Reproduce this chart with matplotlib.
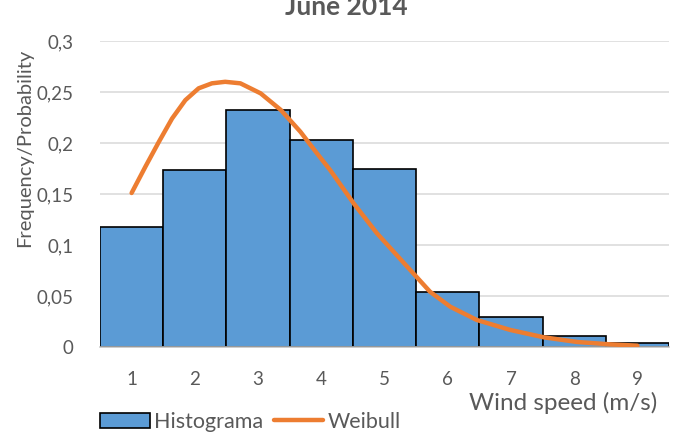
# histogram of wind speed for June 2014 with the fitted Weibull curve on top

import numpy as np
import matplotlib.pyplot as plt

plt.rcParams['font.family'] = ['Lato', 'DejaVu Sans']

# histogram (frequency of each 1 m/s bin)
speed = [1, 2, 3, 4, 5, 6, 7, 8, 9]
freq = [0.118, 0.1735, 0.2325, 0.203, 0.175, 0.054, 0.0295, 0.0112, 0.0042]

# weibull probability
wb_x = [1.0, 1.22, 1.43, 1.64, 1.85, 2.06, 2.27, 2.48, 2.72, 3.04, 3.36,
        3.67, 3.93, 4.14, 4.51, 4.88, 5.36, 5.72, 6.04, 6.46, 6.99, 7.52,
        8.05, 8.57, 9.0]
wb_y = [0.151, 0.177, 0.201, 0.224, 0.242, 0.2536, 0.2585, 0.260, 0.2585,
        0.2487, 0.2324, 0.211, 0.190, 0.1735, 0.141, 0.1115, 0.0787, 0.0542,
        0.0395, 0.0265, 0.0167, 0.0095, 0.0049, 0.0026, 0.0013]

y_ticks = [0, 0.05, 0.1, 0.15, 0.2, 0.25, 0.3]
y_labels = ['0', '0,05', '0,1', '0,15', '0,2', '0,25', '0,3']

grey = '#595959'

fig = plt.figure(figsize=(6.86, 4.37), dpi=100)
ax = fig.add_axes([100/686, 1 - 347/437, 569/686, 306/437])

bars = ax.bar(speed, freq, width=1.0, color='#5B9BD5', edgecolor='black',
              linewidth=1.2, zorder=2, label='Histograma')
line, = ax.plot(wb_x, wb_y, color='#ED7D31', linewidth=3.2,
                solid_capstyle='round', solid_joinstyle='round', zorder=3,
                label='Weibull')

ax.set_xlim(0.5, 9.5)
ax.set_ylim(0, 0.3)
ax.set_xticks(speed)
ax.set_yticks(y_ticks)
ax.set_yticklabels(y_labels)
ax.tick_params(length=0, labelsize=13.5, labelcolor=grey)
ax.tick_params(axis='y', pad=19)
ax.tick_params(axis='x', pad=17)
ax.grid(axis='y', color='#D9D9D9', linewidth=1.1, zorder=0)
ax.set_axisbelow(True)
for s in ['top', 'right', 'left']:
    ax.spines[s].set_visible(False)
ax.spines['bottom'].set_color('#BFBFBF')
ax.spines['bottom'].set_linewidth(1.1)

fig.text(25/686, 1 - 148/437, 'Frequency/Probability', rotation=90,
         ha='center', va='center', fontsize=14.5, color=grey)
fig.text(657/686, 1 - 403/437, 'Wind speed (m/s)', ha='right', va='center',
         fontsize=17.5, color=grey)
fig.text(346/686, 1 - 15/437, 'June 2014', ha='center', va='baseline',
         fontsize=19, fontweight='bold', color=grey)

fig.legend(handles=[bars, line], loc='center left',
           bbox_to_anchor=(100/686, 1 - 422/437), ncol=2, frameon=False,
           fontsize=15.5, handlelength=2.3, handletextpad=0.2,
           columnspacing=0.5, labelcolor=grey, borderpad=0, borderaxespad=0)

fig.savefig('out.png', dpi=100)
